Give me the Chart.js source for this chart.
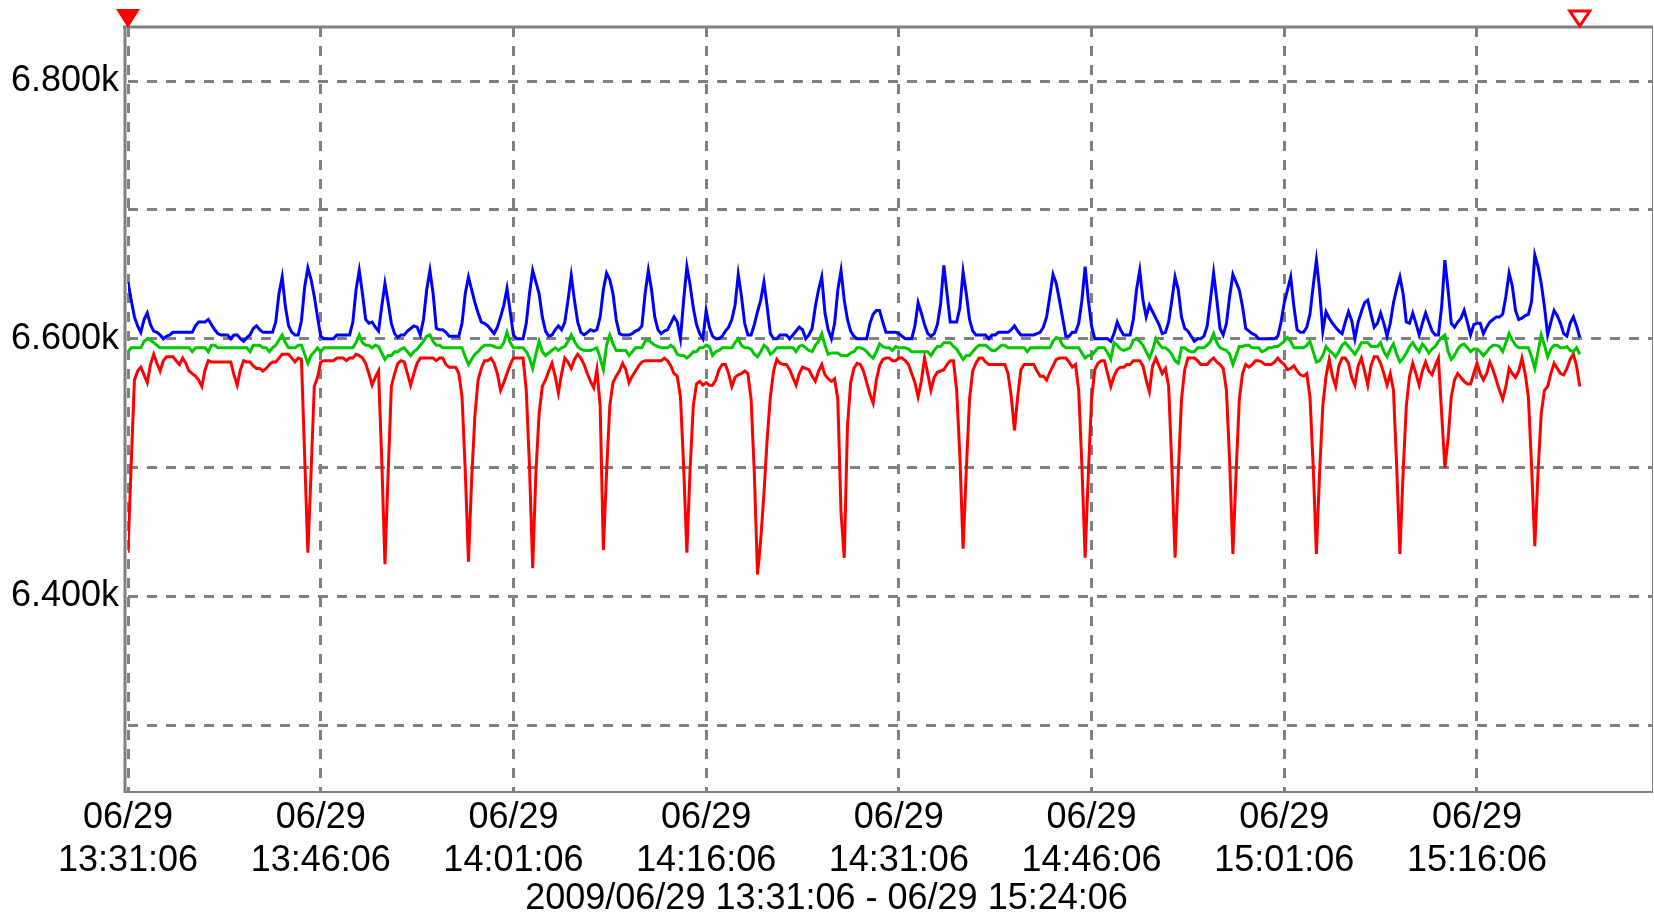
<!DOCTYPE html>
<html>
<head>
<meta charset="utf-8">
<script src="https://cdn.jsdelivr.net/npm/chart.js@4.4.0/dist/chart.umd.min.js"></script>
<style>
html,body{margin:0;padding:0;background:#fff;}
#trend{display:block;}
</style>
</head>
<body>
<canvas id="trend" width="1654" height="916"></canvas>
<script>
// one sample every 15 s, x axis in minutes from 13:31:06
const SAMPLE_MIN = 0.25;
const X_MAX = 118.7;
const Y_MIN = 6249, Y_MAX = 6842;

const blueSeries = [
6644,6630,6617,6610,6605,6615,6620,6611,6606,6605,
6603,6600,6602,6603,6605,6605,6605,6605,6605,6605,
6605,6610,6613,6613,6613,6615,6611,6607,6604,6603,
6603,6603,6600,6603,6603,6600,6598,6601,6603,6608,
6610,6607,6605,6605,6605,6605,6613,6635,6648,6625,
6610,6605,6603,6603,6614,6640,6655,6646,6633,6617,
6602,6600,6600,6600,6600,6603,6603,6603,6603,6603,
6613,6638,6653,6635,6615,6612,6613,6609,6606,6625,
6643,6628,6612,6604,6601,6603,6603,6606,6608,6610,
6609,6603,6615,6638,6653,6635,6608,6607,6607,6605,
6602,6602,6602,6602,6612,6635,6648,6638,6628,6620,
6613,6612,6610,6607,6604,6609,6617,6626,6639,6621,
6603,6600,6600,6600,6612,6635,6653,6644,6635,6617,
6606,6602,6603,6607,6610,6607,6613,6630,6649,6630,
6613,6605,6603,6605,6607,6606,6607,6617,6638,6651,
6646,6635,6615,6604,6603,6603,6603,6604,6606,6607,
6610,6635,6653,6638,6617,6607,6604,6606,6607,6612,
6617,6613,6600,6630,6656,6642,6624,6611,6604,6600,
6622,6609,6602,6600,6600,6602,6606,6609,6615,6626,
6650,6633,6612,6603,6603,6611,6621,6630,6644,6625,
6604,6600,6600,6603,6603,6603,6600,6603,6606,6609,
6607,6600,6603,6608,6625,6638,6648,6620,6607,6600,
6612,6638,6653,6630,6615,6606,6602,6600,6600,6600,
6600,6612,6619,6622,6622,6613,6605,6605,6605,6605,
6604,6602,6600,6600,6600,6610,6628,6620,6611,6604,
6602,6604,6611,6627,6657,6635,6613,6613,6613,6624,
6652,6635,6615,6606,6603,6603,6603,6603,6600,6603,
6603,6605,6605,6605,6605,6607,6610,6606,6603,6603,
6603,6603,6603,6604,6605,6609,6617,6633,6650,6643,
6630,6616,6602,6602,6605,6605,6612,6630,6656,6630,
6610,6600,6600,6600,6600,6600,6598,6604,6613,6607,
6603,6603,6603,6615,6638,6653,6630,6617,6626,6621,
6616,6611,6604,6605,6613,6630,6648,6638,6617,6608,
6606,6602,6598,6600,6600,6602,6610,6630,6651,6630,
6608,6603,6612,6633,6650,6644,6638,6625,6608,6606,
6604,6603,6600,6600,6600,6600,6600,6600,6602,6613,
6628,6638,6648,6625,6607,6605,6605,6609,6619,6641,
6661,6638,6606,6621,6616,6612,6609,6606,6604,6613,
6621,6614,6600,6613,6621,6628,6630,6619,6609,6612,
6620,6612,6602,6612,6628,6639,6648,6635,6613,6612,
6620,6612,6603,6612,6620,6613,6606,6603,6603,6625,
6661,6638,6612,6609,6613,6616,6622,6613,6603,6611,
6612,6612,6604,6609,6613,6615,6617,6617,6619,6633,
6651,6641,6622,6615,6616,6618,6619,6629,6665,6656,
6643,6625,6603,6613,6622,6618,6612,6604,6602,6612,
6617,6610,6601
];

const greenSeries = [
6590,6593,6593,6593,6593,6598,6600,6599,6597,6595,
6593,6593,6593,6593,6593,6593,6593,6593,6593,6593,
6590,6593,6593,6593,6593,6590,6595,6595,6593,6593,
6593,6593,6593,6593,6593,6593,6593,6593,6590,6595,
6595,6595,6593,6593,6590,6593,6595,6599,6603,6597,
6593,6593,6593,6595,6595,6588,6581,6587,6590,6593,
6590,6593,6593,6593,6593,6593,6593,6593,6593,6593,
6593,6597,6603,6597,6595,6595,6593,6595,6594,6589,
6584,6587,6587,6590,6590,6592,6593,6590,6587,6590,
6592,6595,6598,6602,6603,6598,6595,6595,6593,6593,
6593,6593,6593,6593,6593,6586,6580,6584,6588,6590,
6593,6595,6595,6595,6594,6593,6593,6597,6605,6597,
6593,6593,6593,6593,6590,6585,6577,6588,6598,6590,
6587,6589,6591,6593,6591,6593,6594,6598,6603,6598,
6594,6592,6591,6591,6591,6592,6593,6585,6576,6595,
6603,6596,6591,6591,6591,6591,6587,6590,6593,6593,
6593,6598,6599,6597,6595,6594,6593,6593,6593,6595,
6593,6588,6587,6587,6585,6587,6590,6590,6593,6593,
6595,6594,6587,6590,6591,6593,6593,6593,6593,6597,
6600,6595,6593,6593,6592,6588,6586,6590,6595,6593,
6588,6590,6593,6593,6593,6593,6593,6593,6590,6594,
6595,6593,6591,6590,6595,6598,6604,6595,6588,6589,
6589,6589,6587,6587,6587,6589,6590,6593,6593,6592,
6590,6587,6585,6590,6596,6594,6593,6593,6591,6594,
6593,6593,6593,6592,6590,6590,6590,6590,6590,6590,
6587,6591,6594,6594,6597,6597,6597,6594,6592,6588,
6584,6587,6587,6590,6593,6595,6595,6595,6593,6591,
6591,6593,6595,6595,6593,6593,6593,6593,6593,6593,
6590,6593,6593,6593,6593,6593,6593,6593,6598,6601,
6600,6595,6593,6593,6593,6593,6593,6589,6585,6587,
6587,6590,6593,6593,6593,6589,6584,6597,6595,6592,
6591,6592,6593,6599,6600,6598,6595,6590,6585,6591,
6600,6596,6593,6593,6591,6588,6583,6581,6593,6593,
6591,6590,6590,6593,6593,6593,6595,6598,6604,6597,
6593,6592,6591,6588,6580,6587,6594,6594,6595,6595,
6593,6593,6593,6590,6591,6593,6593,6594,6594,6596,
6598,6601,6598,6593,6593,6593,6593,6595,6598,6590,
6582,6583,6587,6594,6591,6589,6586,6590,6595,6597,
6594,6591,6588,6592,6597,6597,6597,6594,6594,6594,
6597,6590,6586,6592,6596,6588,6582,6585,6589,6594,
6597,6593,6590,6596,6593,6589,6592,6594,6598,6601,
6603,6590,6584,6587,6592,6595,6596,6593,6590,6592,
6592,6590,6587,6590,6593,6595,6595,6594,6590,6597,
6604,6599,6595,6593,6593,6593,6593,6586,6577,6590,
6603,6595,6586,6592,6595,6595,6593,6593,6594,6591,
6590,6593,6588
];

const redSeries = [
6434,6503,6568,6575,6578,6572,6566,6580,6588,6581,
6575,6583,6586,6586,6586,6583,6580,6585,6581,6575,
6573,6571,6568,6563,6576,6583,6582,6582,6582,6582,
6582,6582,6582,6572,6564,6576,6583,6582,6582,6579,
6577,6577,6575,6577,6580,6582,6582,6585,6588,6588,
6588,6585,6582,6585,6584,6509,6434,6496,6563,6570,
6582,6583,6583,6583,6583,6585,6585,6585,6583,6585,
6585,6588,6587,6585,6581,6573,6564,6570,6575,6506,
6425,6496,6563,6573,6581,6583,6582,6573,6564,6573,
6581,6585,6585,6585,6585,6585,6583,6585,6585,6580,
6578,6578,6578,6573,6555,6498,6427,6491,6540,6568,
6577,6583,6583,6585,6581,6573,6560,6566,6573,6580,
6585,6585,6585,6585,6560,6501,6422,6496,6542,6563,
6568,6575,6581,6571,6558,6573,6585,6582,6577,6584,
6588,6585,6580,6573,6567,6562,6576,6548,6436,6496,
6548,6566,6571,6575,6581,6576,6566,6571,6575,6579,
6582,6583,6583,6583,6583,6583,6583,6585,6583,6579,
6573,6571,6555,6501,6434,6498,6548,6565,6567,6564,
6566,6564,6564,6568,6576,6580,6580,6573,6563,6570,
6572,6573,6575,6573,6553,6496,6417,6444,6480,6522,
6555,6575,6584,6581,6580,6580,6576,6570,6564,6573,
6578,6577,6576,6571,6567,6575,6580,6572,6569,6567,
6569,6553,6465,6430,6532,6566,6577,6581,6580,6575,
6566,6557,6550,6568,6579,6584,6585,6585,6583,6583,
6585,6585,6583,6580,6573,6566,6555,6567,6585,6573,
6560,6570,6574,6575,6576,6580,6583,6583,6560,6509,
6437,6498,6553,6575,6581,6585,6585,6582,6580,6580,
6580,6580,6580,6580,6573,6555,6529,6555,6576,6580,
6580,6580,6580,6575,6571,6571,6568,6574,6579,6584,
6585,6585,6585,6582,6578,6580,6560,6501,6430,6496,
6553,6576,6581,6583,6583,6573,6563,6571,6576,6578,
6578,6580,6580,6583,6583,6583,6579,6568,6559,6579,
6585,6579,6573,6577,6563,6501,6430,6496,6553,6576,
6585,6585,6585,6583,6580,6580,6580,6583,6585,6582,
6580,6577,6560,6504,6433,6496,6553,6573,6580,6578,
6580,6583,6583,6582,6580,6580,6580,6582,6585,6582,
6580,6576,6577,6579,6575,6572,6571,6573,6555,6501,
6433,6496,6548,6571,6584,6571,6563,6579,6585,6585,
6581,6570,6564,6579,6585,6575,6564,6579,6586,6586,
6581,6573,6564,6573,6560,6501,6433,6496,6548,6571,
6581,6573,6564,6575,6582,6575,6572,6579,6585,6542,
6500,6522,6555,6568,6573,6570,6567,6565,6565,6573,
6581,6573,6568,6573,6582,6576,6568,6560,6553,6563,
6577,6573,6570,6575,6585,6573,6555,6501,6439,6496,
6542,6560,6563,6573,6581,6577,6573,6572,6577,6584,
6588,6579,6563
];

const xTickMinutes = [0, 15, 30, 45, 60, 75, 90, 105];
const xTickDates = ["06/29","06/29","06/29","06/29","06/29","06/29","06/29","06/29"];
const xTickTimes = ["13:31:06","13:46:06","14:01:06","14:16:06","14:31:06","14:46:06","15:01:06","15:16:06"];
const yGridValues = [6300, 6400, 6500, 6600, 6700, 6800];
const yLabelValues = [6400, 6600, 6800];
const yLabelTexts = ["6.400k", "6.600k", "6.800k"];
const rangeText = "2009/06/29 13:31:06 - 06/29 15:24:06";

const FONT = '"Liberation Sans Narrow", "Arial Narrow", "Liberation Sans", Arial, sans-serif';
const GRID = "#808080";

function toPoints(values){ return values.map((v,i) => ({x:i*SAMPLE_MIN, y:v})); }

// solid frame around the plot, drawn over the dashed grid
const frame = {
  id:"frame",
  beforeDatasetsDraw(chart){
    const {ctx, chartArea:a} = chart;
    ctx.save();
    ctx.strokeStyle = GRID;
    ctx.lineWidth = 3;
    ctx.beginPath(); ctx.moveTo(a.left-5, a.top); ctx.lineTo(a.right, a.top); ctx.stroke();
    ctx.beginPath(); ctx.moveTo(a.left-3, a.top); ctx.lineTo(a.left-3, a.bottom+2); ctx.stroke();
    ctx.lineWidth = 2;
    ctx.beginPath(); ctx.moveTo(a.left-4, a.bottom+1); ctx.lineTo(a.right, a.bottom+1); ctx.stroke();
    ctx.lineWidth = 1;
    ctx.beginPath(); ctx.moveTo(a.right-0.5, a.top); ctx.lineTo(a.right-0.5, a.bottom+2); ctx.stroke();
    ctx.restore();
  }
};

// start / end cursors above the plot
const cursors = {
  id:"cursors",
  afterDraw(chart){
    const {ctx, chartArea:a, scales} = chart;
    const x0 = scales.x.getPixelForValue(0);
    const x1 = scales.x.getPixelForValue((redSeries.length-1)*SAMPLE_MIN);
    ctx.save();
    ctx.fillStyle = "#ff0000";
    ctx.beginPath();
    ctx.moveTo(x0-12, a.top-18); ctx.lineTo(x0+12, a.top-18); ctx.lineTo(x0, a.top+1); ctx.closePath();
    ctx.fill();
    ctx.strokeStyle = "#ff0000";
    ctx.lineWidth = 3;
    ctx.beginPath();
    ctx.moveTo(x1-10, a.top-16); ctx.lineTo(x1+10, a.top-16); ctx.lineTo(x1, a.top-1); ctx.closePath();
    ctx.stroke();
    ctx.restore();
  }
};

const lineStyle = {borderWidth:3, pointRadius:0, tension:0, fill:false};

new Chart(document.getElementById("trend"), {
  type:"line",
  data:{datasets:[
    {...lineStyle, label:"blue", data:toPoints(blueSeries), borderColor:"#0000ff"},
    {...lineStyle, label:"green", data:toPoints(greenSeries), borderColor:"#00c800"},
    {...lineStyle, label:"red", data:toPoints(redSeries), borderColor:"#ff0000"}
  ]},
  options:{
    responsive:false, animation:false, events:[],
    layout:{padding:{top:27, right:1, left:0, bottom:0}},
    plugins:{
      legend:{display:false}, tooltip:{enabled:false},
      title:{display:true, position:"bottom", text:rangeText, color:"#000",
        font:{family:FONT, size:36, weight:"normal", lineHeight:"34px"}, padding:{top:4, bottom:0}}
    },
    scales:{
      x:{
        type:"linear", min:0, max:X_MAX,
        afterBuildTicks:s => { s.ticks = xTickMinutes.map(v => ({value:v})); },
        afterFit:s => { s.height = 87; s.paddingLeft = 0; s.paddingRight = 0; },
        grid:{color:GRID, lineWidth:3, drawTicks:false},
        border:{display:false, dash:[10,9]},
        ticks:{autoSkip:false, maxRotation:0, color:"#000", padding:6,
          font:{family:FONT, size:36, lineHeight:"43px"},
          callback:v => { const k = xTickMinutes.indexOf(v); return k < 0 ? "" : [xTickDates[k], xTickTimes[k]]; }}
      },
      y:{
        type:"linear", min:Y_MIN, max:Y_MAX,
        afterBuildTicks:s => { s.ticks = yGridValues.map(v => ({value:v})); },
        afterFit:s => { s.width = 128; s.paddingTop = 0; s.paddingBottom = 0; },
        grid:{color:GRID, lineWidth:3, drawTicks:false},
        border:{display:false, dash:[10,9]},
        ticks:{color:"#000", padding:9, font:{family:FONT, size:36},
          callback:v => { const k = yLabelValues.indexOf(v); return k < 0 ? "" : yLabelTexts[k]; }}
      }
    }
  },
  plugins:[frame, cursors]
});
</script>
</body>
</html>
